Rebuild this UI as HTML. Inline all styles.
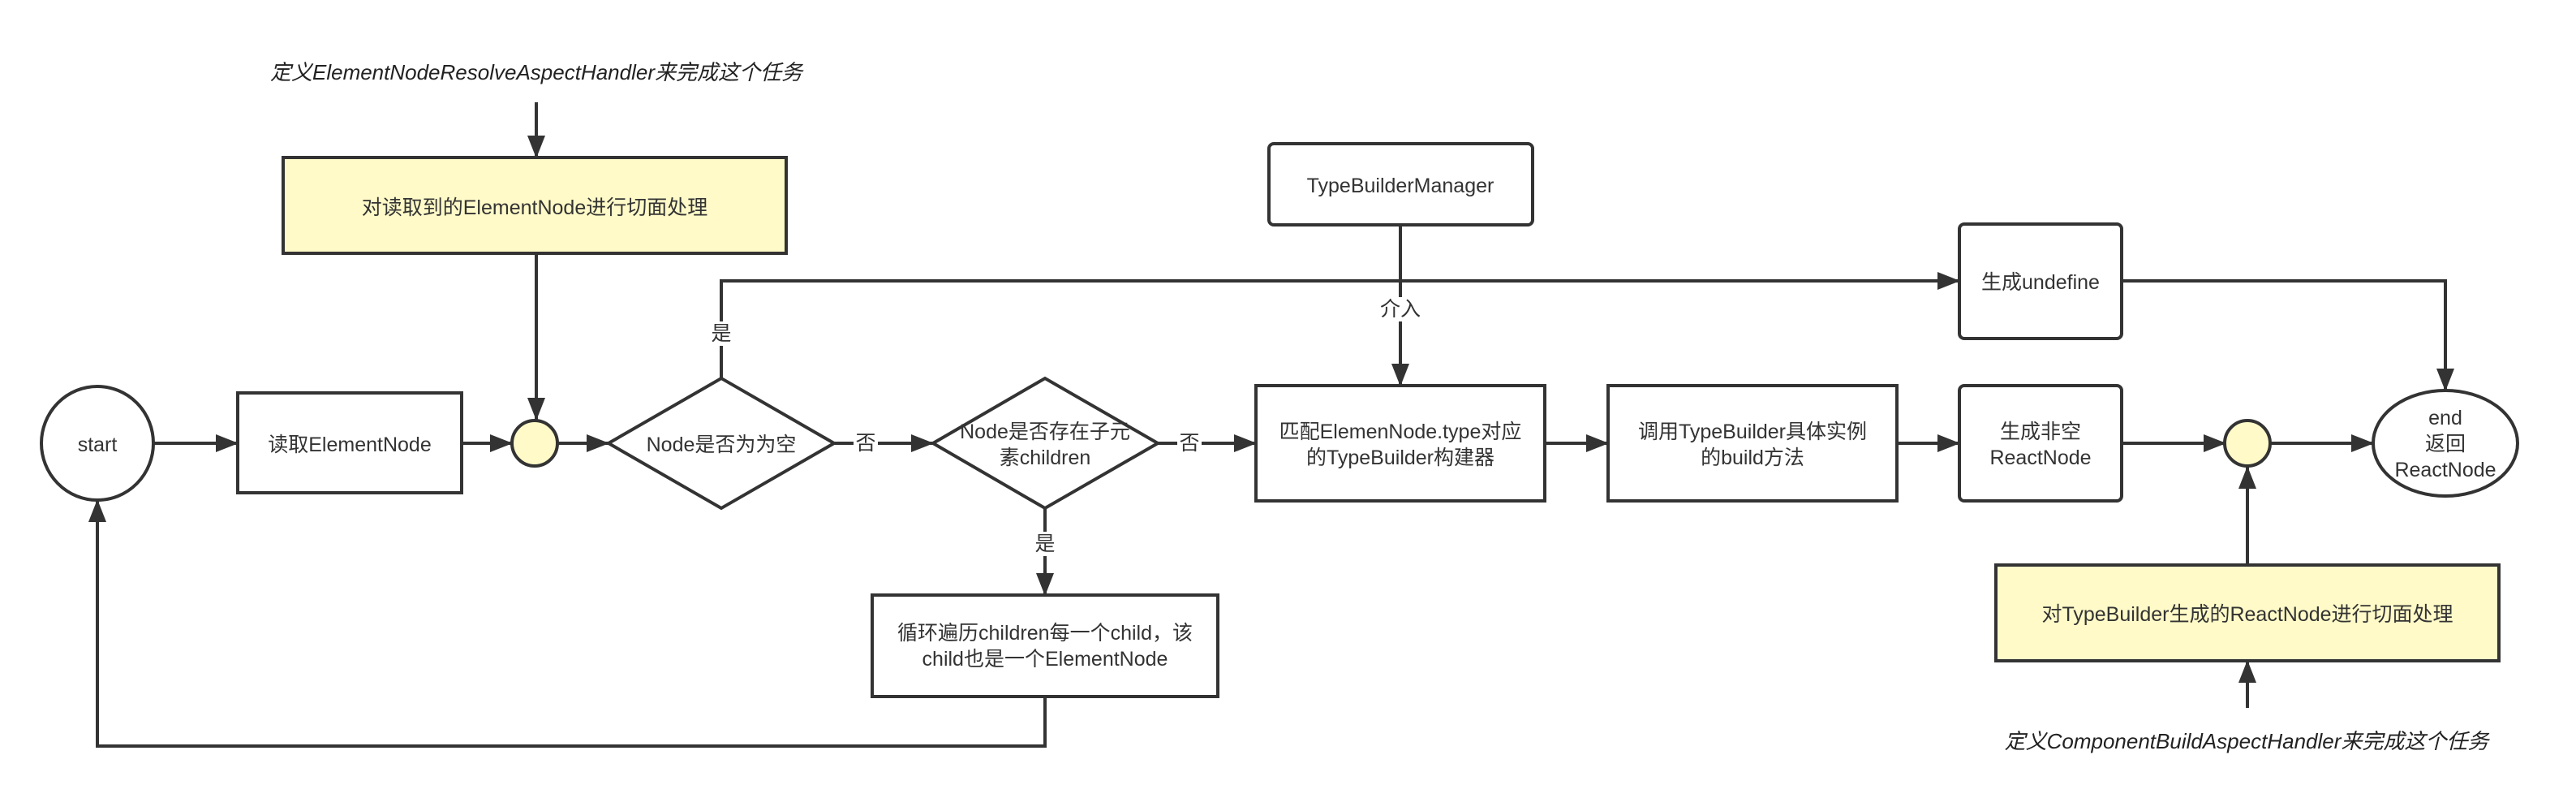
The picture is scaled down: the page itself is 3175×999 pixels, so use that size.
<!DOCTYPE html>
<html><head><meta charset="utf-8"><style>
html,body{margin:0;padding:0;background:#fff;}
svg{display:block;}
text{font-family:"Liberation Sans","Noto Sans CJK SC",sans-serif;fill:#333;font-size:25px;text-anchor:middle;dominant-baseline:central;}
.it{font-style:italic;font-size:26px;fill:#222;}
</style></head><body>
<svg width="3175" height="999" viewBox="0 0 3175 999" xmlns="http://www.w3.org/2000/svg">
<defs>
<marker id="a" markerWidth="28" markerHeight="22" refX="27" refY="11" orient="auto" markerUnits="userSpaceOnUse">
<path d="M0,0 L28,11 L0,22 Z" fill="#333"/></marker>
</defs>
<g stroke="#333" stroke-width="4" fill="none">
<!-- connectors -->
<line x1="661" y1="126" x2="661" y2="194" marker-end="url(#a)"/>
<line x1="661" y1="312" x2="661" y2="517" marker-end="url(#a)"/>
<line x1="189" y1="546" x2="293" y2="546" marker-end="url(#a)"/>
<line x1="569" y1="546" x2="631" y2="546" marker-end="url(#a)"/>
<line x1="687" y1="546" x2="750" y2="546" marker-end="url(#a)"/>
<line x1="1028" y1="546" x2="1150" y2="546" marker-end="url(#a)"/>
<line x1="1427" y1="546" x2="1548" y2="546" marker-end="url(#a)"/>
<line x1="1904" y1="546" x2="1982" y2="546" marker-end="url(#a)"/>
<line x1="2338" y1="546" x2="2415" y2="546" marker-end="url(#a)"/>
<line x1="2615" y1="546" x2="2743" y2="546" marker-end="url(#a)"/>
<line x1="2797" y1="546" x2="2925" y2="546" marker-end="url(#a)"/>
<polyline points="889,466 889,346 2415,346" marker-end="url(#a)"/>
<polyline points="2615,346 3014,346 3014,481" marker-end="url(#a)"/>
<line x1="1726" y1="277" x2="1726" y2="475" marker-end="url(#a)"/>
<line x1="1288" y1="626" x2="1288" y2="733" marker-end="url(#a)"/>
<polyline points="1288,858 1288,919 120,919 120,616" marker-end="url(#a)"/>
<line x1="2770" y1="696" x2="2770" y2="575" marker-end="url(#a)"/>
<line x1="2770" y1="872" x2="2770" y2="814" marker-end="url(#a)"/>
</g>
<!-- label backgrounds -->
<g fill="#fff">
<rect x="874" y="396" width="30" height="30"/>
<rect x="1052" y="532" width="30" height="28"/>
<rect x="1451" y="532" width="30" height="28"/>
<rect x="1273" y="655" width="30" height="30"/>
<rect x="1706" y="366" width="42" height="30"/>
</g>
<g stroke="#333" stroke-width="4">
<rect x="349" y="194" width="620" height="118" fill="#fffac8"/>
<rect x="2460" y="696" width="620" height="118" fill="#fffac8"/>
<ellipse cx="120" cy="546" rx="69" ry="70" fill="#fff"/>
<rect x="293" y="484" width="276" height="123" fill="#fff"/>
<circle cx="659" cy="546" r="28" fill="#fffac8"/>
<polygon points="750,546 889,466 1028,546 889,626" fill="#fff"/>
<polygon points="1150,546 1288,466 1427,546 1288,626" fill="#fff"/>
<rect x="1548" y="475" width="356" height="142" fill="#fff"/>
<rect x="1075" y="733" width="426" height="125" fill="#fff"/>
<rect x="1564" y="177" width="325" height="100" rx="6" fill="#fff"/>
<rect x="2415" y="276" width="200" height="141" rx="6" fill="#fff"/>
<rect x="1982" y="475" width="356" height="142" fill="#fff"/>
<rect x="2415" y="475" width="200" height="142" rx="6" fill="#fff"/>
<circle cx="2770" cy="546" r="28" fill="#fffac8"/>
<ellipse cx="3014" cy="546" rx="89" ry="65" fill="#fff"/>
</g>
<text class="it" x="661" y="89">定义ElementNodeResolveAspectHandler来完成这个任务</text>
<text x="659" y="256">对读取到的ElementNode进行切面处理</text>
<text x="120" y="548">start</text>
<text x="431" y="548">读取ElementNode</text>
<text x="889" y="548">Node是否为为空</text>
<text x="1288" y="532">Node是否存在子元</text>
<text x="1288" y="564">素children</text>
<text x="889" y="411">是</text>
<text x="1067" y="546">否</text>
<text x="1466" y="546">否</text>
<text x="1288" y="670">是</text>
<text x="1726" y="381">介入</text>
<text x="1288" y="780">循环遍历children每一个child，该</text>
<text x="1288" y="812">child也是一个ElementNode</text>
<text x="1726" y="229">TypeBuilderManager</text>
<text x="1726" y="532">匹配ElemenNode.type对应</text>
<text x="1726" y="564">的TypeBuilder构建器</text>
<text x="2515" y="348">生成undefine</text>
<text x="2160" y="532">调用TypeBuilder具体实例</text>
<text x="2160" y="564">的build方法</text>
<text x="2515" y="532">生成非空</text>
<text x="2515" y="564">ReactNode</text>
<text x="3014" y="515">end</text>
<text x="3014" y="547">返回</text>
<text x="3014" y="579">ReactNode</text>
<text x="2770" y="757">对TypeBuilder生成的ReactNode进行切面处理</text>
<text class="it" x="2769" y="913">定义ComponentBuildAspectHandler来完成这个任务</text>
</svg>
</body></html>
